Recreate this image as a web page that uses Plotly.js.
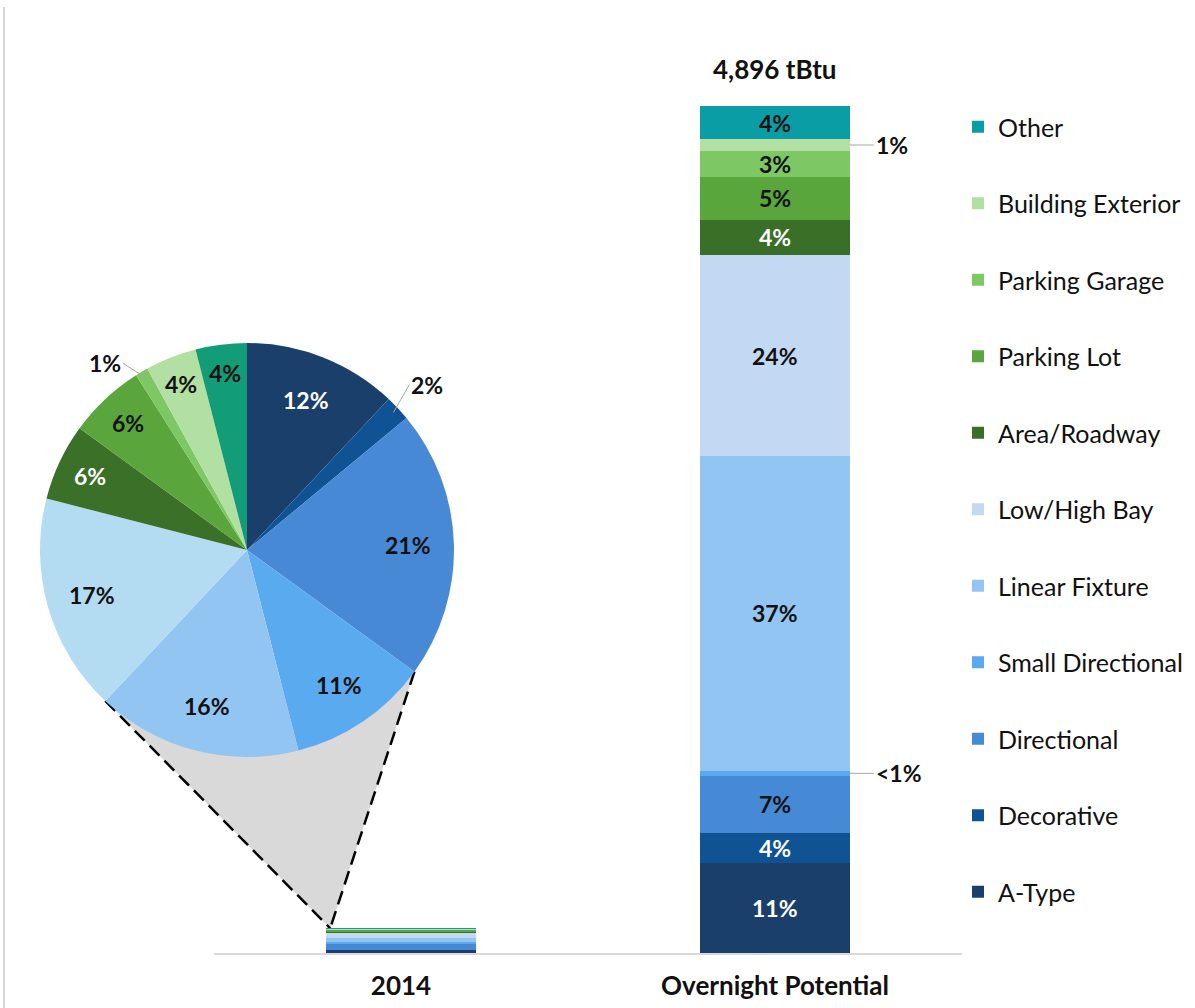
<!DOCTYPE html>
<html>
<head>
<meta charset="utf-8">
<script src="https://cdn.plot.ly/plotly-3.0.1.min.js"></script>
<style>html,body{margin:0;padding:0;background:#fff;}#chart{width:1195px;height:1008px;}</style>
</head>
<body>
<div id="chart"></div>
<script>
// ---------------- DATA ----------------
const categories = ['2014', 'Overnight Potential'];
const seriesNames = ['A-Type', 'Decorative', 'Directional', 'Small Directional', 'Linear Fixture',
  'Low/High Bay', 'Area/Roadway', 'Parking Lot', 'Parking Garage', 'Building Exterior', 'Other'];
const pct2014 = [12, 2, 21, 11, 16, 17, 6, 6, 1, 4, 4];          // % share of 2014 consumption (pie)
const total2014 = 143;                                             // tBtu
const overnightValues = [519, 176, 328, 31, 1819, 1160, 206, 245, 152, 69, 191]; // tBtu

// ---------------- STYLE ----------------
const barColors = ['#1a3f6b', '#0f5395', '#4689d5', '#58a9f0', '#93c5f3', '#c3d8f2',
  '#396f27', '#58a63c', '#7dc865', '#b3dfa3', '#0a9da5'];
const pieColors = ['#1a3f6b', '#0f5395', '#4789d5', '#5aaaf0', '#93c5f3', '#b3dcf2',
  '#3a7027', '#5aa63c', '#7dc865', '#b2dfa2', '#139c78'];
const FONT = 'Lato, "Open Sans", sans-serif';
const labelSize = 23;

// geometry (pixels)
const W = 1195, H = 1008, MB = 55, PH = H - MB;
const plotL = 214, plotR = 962, plotT = 70;
const yMax = 5104;
const pieCx = 247, pieCy = 550, pieR = 207;
const barWidth = 0.4;

function pxX(x) { return x / W; }
function pxY(y) { return (PH - y) / PH; }
function dataX2px(c) { return plotL + (c + 0.5) / 2 * (plotR - plotL); }
function dataY2px(v) { return PH - v / yMax * (PH - plotT); }
function piePt(frac, r) {
  const a = frac * 2 * Math.PI;
  return [pieCx + r * Math.sin(a), pieCy - r * Math.cos(a)];
}
function lum(hex) {
  const c = [1, 3, 5].map(i => parseInt(hex.substr(i, 2), 16) / 255)
    .map(v => v <= 0.03928 ? v / 12.92 : Math.pow((v + 0.055) / 1.055, 2.4));
  return 0.2126 * c[0] + 0.7152 * c[1] + 0.0722 * c[2];
}
function txtColor(hex) { return lum(hex) < 0.2 ? '#ffffff' : '#111111'; }

const values2014 = pct2014.map(p => p * total2014 / 100);
const totalOvernight = overnightValues.reduce((a, b) => a + b, 0);

// ---------------- TRACES ----------------
const nSeries = seriesNames.length;
const traces = seriesNames.map((name, i) => ({
  type: 'bar',
  x: categories,
  y: [values2014[i], overnightValues[i]],
  name: name,
  width: barWidth,
  legendgroup: 'g' + i,
  legendrank: 1000 + (nSeries - i),
  marker: { color: barColors[i], line: { width: 0 } },
  hoverinfo: 'skip'
}));

traces.push({
  type: 'pie',
  values: pct2014,
  labels: seriesNames,
  sort: false,
  direction: 'clockwise',
  rotation: 0,
  textinfo: 'none',
  showlegend: false,
  hoverinfo: 'skip',
  marker: { colors: pieColors, line: { width: 0 } },
  domain: {
    x: [pxX(pieCx - pieR), pxX(pieCx + pieR)],
    y: [pxY(pieCy + pieR), pxY(pieCy - pieR)]
  }
});

// ---------------- ANNOTATIONS ----------------
const annotations = [];
// pie labels
let cum = 0;
const pieTotal = pct2014.reduce((a, b) => a + b, 0);
pct2014.forEach((p, i) => {
  const mid = (cum + p / 2) / pieTotal;
  cum += p;
  if (p >= 3) {
    // narrow slices get their label further out, as in the original
    const rf = Math.max(0.78, 0.9 - 0.01 * p);
    const pt = piePt(mid, pieR * rf);
    annotations.push({
      xref: 'paper', yref: 'paper', x: pxX(pt[0]), y: pxY(pt[1]),
      xanchor: 'center', yanchor: 'middle',
      text: p + '%', showarrow: false,
      font: { family: FONT, size: labelSize, color: txtColor(pieColors[i]), weight: 'bold' }
    });
  } else {
    const pt = piePt(mid, pieR * 0.97);
    const right = Math.sin(mid * 2 * Math.PI) > 0;
    annotations.push({
      xref: 'paper', yref: 'paper', x: pxX(pt[0]), y: pxY(pt[1]),
      text: p + '%', showarrow: true, arrowhead: 0, arrowwidth: 1, arrowcolor: '#a6a6a6',
      ax: right ? 16 : -22, ay: right ? -28 : -14, standoff: 0,
      xanchor: right ? 'left' : 'right', yanchor: 'middle',
      font: { family: FONT, size: labelSize, color: '#111111', weight: 'bold' }
    });
  }
});

// overnight bar labels
let cumO = 0;
overnightValues.forEach((v, i) => {
  const mid = cumO + v / 2;
  cumO += v;
  const pct = v / totalOvernight * 100;
  if (pct >= 2) {
    annotations.push({
      xref: 'x', yref: 'y', x: categories[1], y: mid,
      xanchor: 'center', yanchor: 'middle',
      text: Math.round(pct) + '%', showarrow: false,
      font: { family: FONT, size: labelSize, color: txtColor(barColors[i]), weight: 'bold' }
    });
  } else {
    annotations.push({
      xref: 'x', yref: 'y', x: 1 + barWidth / 2, y: mid,
      text: (pct < 1 ? '<1' : Math.round(pct)) + '%', showarrow: true, arrowhead: 0,
      arrowwidth: 1, arrowcolor: '#a6a6a6', ax: 24, ay: 0, standoff: 0,
      xanchor: 'left', yanchor: 'middle',
      font: { family: FONT, size: labelSize, color: '#111111', weight: 'bold' }
    });
  }
});

// totals
[[categories[0], total2014], [categories[1], totalOvernight]].forEach(([c, t]) => {
  annotations.push({
    xref: 'x', yref: 'y', x: c, y: t, xanchor: 'center', yanchor: 'bottom', yshift: 19,
    text: t.toLocaleString('en-US') + ' tBtu', showarrow: false,
    font: { family: FONT, size: 26, color: '#111111', weight: 'bold' }
  });
});

// ---------------- SHAPES (pie-to-bar connector) ----------------
const pLeft = piePt(pct2014.slice(0, 5).reduce((a, b) => a + b, 0) / pieTotal, pieR);
const pRight = piePt(pct2014.slice(0, 3).reduce((a, b) => a + b, 0) / pieTotal, pieR);
const apex = [dataX2px(0 - barWidth / 2) + 4, dataY2px(total2014)];
function P(pt) { return pxX(pt[0]).toFixed(5) + ',' + pxY(pt[1]).toFixed(5); }
const shapes = [
  { type: 'path', xref: 'paper', yref: 'paper', layer: 'below',
    path: 'M' + P(pLeft) + ' L' + P(pRight) + ' L' + P(apex) + ' Z',
    fillcolor: '#d9d9d9', line: { width: 0 } },
  { type: 'line', xref: 'paper', yref: 'paper', layer: 'below',
    x0: pxX(pLeft[0]), y0: pxY(pLeft[1]), x1: pxX(apex[0]), y1: pxY(apex[1]),
    line: { color: '#000000', width: 2.5, dash: '14px,7px' } },
  { type: 'line', xref: 'paper', yref: 'paper', layer: 'below',
    x0: pxX(pRight[0]), y0: pxY(pRight[1]), x1: pxX(apex[0]), y1: pxY(apex[1]),
    line: { color: '#000000', width: 2.5, dash: '14px,7px' } },
  { type: 'line', xref: 'paper', yref: 'paper', layer: 'below',
    x0: pxX(4), y0: pxY(7), x1: pxX(4), y1: pxY(H),
    line: { color: '#c8c8c8', width: 1.5 } }
];

// ---------------- LAYOUT ----------------
const layout = {
  width: W, height: H,
  margin: { l: 0, r: 0, t: 0, b: MB, pad: 0 },
  paper_bgcolor: '#ffffff',
  plot_bgcolor: 'rgba(0,0,0,0)',
  barmode: 'stack',
  hovermode: false,
  font: { family: FONT, color: '#111111' },
  xaxis: {
    type: 'category',
    domain: [pxX(plotL), pxX(plotR)],
    range: [-0.5, 1.5],
    showline: true, linecolor: '#d9d9d9', linewidth: 1.5,
    showgrid: false, zeroline: false, ticks: '',
    ticklabelstandoff: 9,
    tickfont: { family: FONT, size: 26, color: '#111111', weight: 'bold' },
    fixedrange: true
  },
  yaxis: {
    domain: [0, pxY(plotT)],
    range: [0, yMax],
    visible: false,
    fixedrange: true
  },
  legend: {
    x: pxX(958), xanchor: 'left',
    y: pxY(104), yanchor: 'top',
    traceorder: 'grouped',
    tracegroupgap: 41,
    font: { family: FONT, size: 25, color: '#111111' },
    bgcolor: 'rgba(0,0,0,0)'
  },
  annotations: annotations,
  shapes: shapes
};

Plotly.newPlot('chart', traces, layout, { displayModeBar: false, staticPlot: true });
</script>
</body>
</html>
